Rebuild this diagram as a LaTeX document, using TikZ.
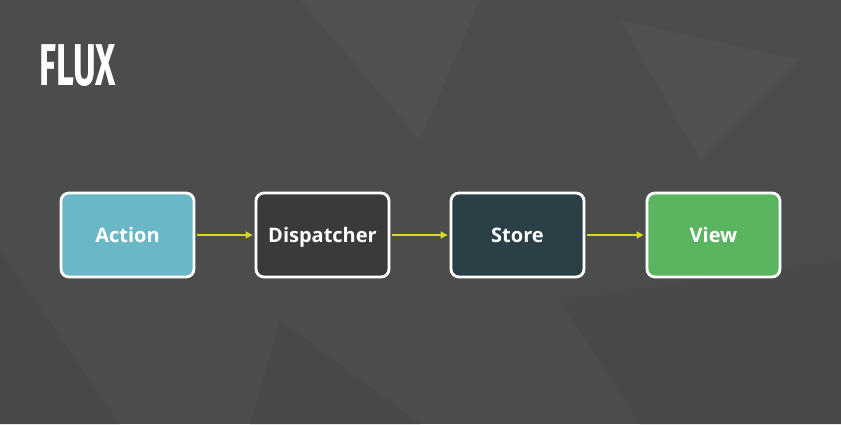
\documentclass[tikz,border=0pt]{standalone}
\usepackage{fontspec}
\setmainfont{Open Sans}
\newfontfamily\titlefont{Fira Sans}
\usetikzlibrary{arrows.meta}
\definecolor{bgc}{HTML}{4B4D4D}
\definecolor{bgd}{HTML}{484A4A}
\definecolor{bge}{HTML}{4F5151}
\definecolor{actc}{HTML}{6AB7C8}
\definecolor{dispc}{HTML}{393A3A}
\definecolor{storc}{HTML}{2B3F46}
\definecolor{viewc}{HTML}{5BB460}
\definecolor{arrc}{HTML}{D9D62A}
\tikzset{
  x=1pt, y=-1pt,
  fluxbox/.style={draw=white, line width=2.8pt, rounded corners=8pt,
    minimum width=133pt, minimum height=84pt, inner sep=0pt,
    text height=14.3pt, text depth=0pt,
    text=white, font=\bfseries\fontsize{20}{24}\selectfont},
  flow/.style={draw=arrc, line width=1.4pt, -{Triangle[length=7pt,width=7pt]}, shorten >=2pt, shorten <=2pt}
}
\begin{document}
\begin{tikzpicture}
\fill[bgc] (0,0) rectangle (841,424);
\useasboundingbox (0,0) rectangle (841,424);
% faint background texture
\fill[bgd] (0,250) -- (120,424) -- (0,424) -- cycle;
\fill[bge] (300,0) -- (480,0) -- (420,140) -- cycle;
\fill[bgd] (560,300) -- (841,260) -- (841,424) -- (640,424) -- cycle;
\fill[bge] (620,20) -- (800,60) -- (700,160) -- cycle;
\fill[bgd] (280,320) -- (420,424) -- (250,424) -- cycle;
\node[anchor=base west, text=white, inner sep=0pt, font=\titlefont\bfseries\fontsize{59}{60}\selectfont, xscale=0.59] (title) at (39,85) {FLUX};
\node[fluxbox, fill=actc] (action) at (127.5,235) {Action};
\node[fluxbox, fill=dispc] (disp) at (322.5,235) {Dispatcher};
\node[fluxbox, fill=storc] (store) at (517.5,235) {Store};
\node[fluxbox, fill=viewc] (view) at (713.5,235) {View};
\draw[flow] (action) -- (disp);
\draw[flow] (disp) -- (store);
\draw[flow] (store) -- (view);
\end{tikzpicture}
\end{document}
